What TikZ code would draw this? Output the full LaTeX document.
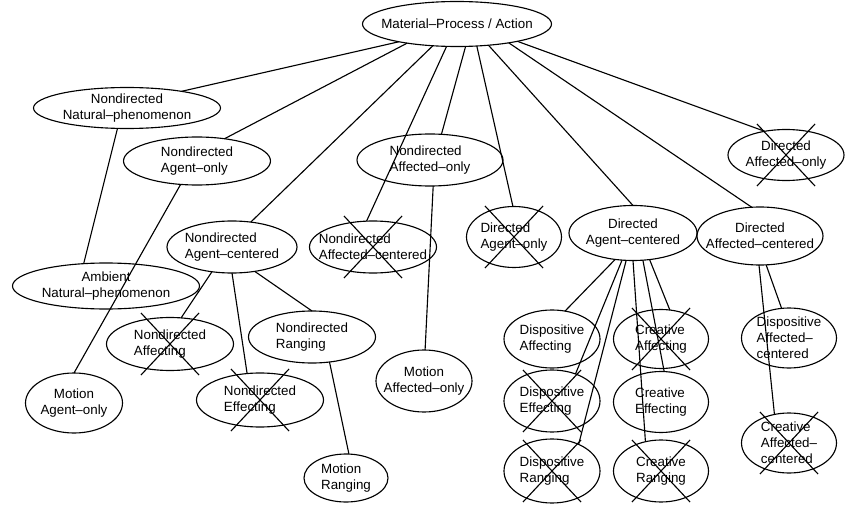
\documentclass[tikz,border=0pt]{standalone}
\usepackage{fontspec}
\setmainfont{Liberation Sans}
\usepackage{tikz}
\usetikzlibrary{shapes.geometric}

\begin{document}
\begin{tikzpicture}[
  oval/.style 2 args={ellipse,draw=black,line width=0.8pt,inner sep=-8pt,outer sep=0pt,
    minimum width=#1,minimum height=#2,align=left,font=\fontsize{9.5}{11.4}\selectfont},
  link/.style={line width=0.8pt}]
  \useasboundingbox (0,0) rectangle (21.15,-12.675);
  \node[oval={4.725cm}{1.125cm}] (top) at (11.425,-0.6) {Material--Process / Action};
  \node[oval={4.675cm}{1.025cm},align=center] (nnp) at (3.175,-2.7) {Nondirected\\Natural--phenomenon};
  \node[oval={3.675cm}{1.2cm}] (nao) at (4.925,-4.025) {Nondirected\\Agent--only};
  \node[oval={3.25cm}{1.3cm}] (nac) at (5.8,-6.175) {Nondirected\\Agent--centered};
  \node[oval={3.175cm}{1.3cm}] (nafc) at (9.325,-6.175) {Nondirected\\Affected--centered};
  \node[oval={3.65cm}{1.3cm}] (nafo) at (10.75,-4.0) {Nondirected\\Affected--only};
  \node[oval={2.9cm}{1.275cm},align=center] (dafo) at (19.65,-3.875) {Directed\\Affected--only};
  \node[oval={2.375cm}{1.525cm}] (dao) at (12.85,-5.925) {Directed\\Agent--only};
  \node[oval={3.2cm}{1.375cm},align=center] (dac) at (15.825,-5.825) {Directed\\Agent--centered};
  \node[oval={3.15cm}{1.45cm},align=center] (dafc) at (19.0,-5.9) {Directed\\Affected--centered};
  \node[oval={4.675cm}{1.15cm},align=center] (anp) at (2.65,-7.15) {Ambient\\Natural--phenomenon};
  \node[oval={3.175cm}{1.325cm}] (naff) at (4.25,-8.6) {Nondirected\\Affecting};
  \node[oval={3.175cm}{1.3cm}] (nrng) at (7.8,-8.425) {Nondirected\\Ranging};
  \node[oval={3.175cm}{1.35cm}] (neff) at (6.5,-10.0) {Nondirected\\Effecting};
  \node[oval={2.425cm}{1.5cm},align=center] (mao) at (1.85,-10.075) {Motion\\Agent--only};
  \node[oval={2.1cm}{1.2cm}] (mrng) at (8.65,-11.95) {Motion\\Ranging};
  \node[oval={2.4cm}{1.55cm},align=center] (mafo) at (10.6,-9.525) {Motion\\Affected--only};
  \node[oval={2.4cm}{1.45cm}] (daff) at (13.8,-8.475) {Dispositive\\Affecting};
  \node[oval={2.4cm}{1.55cm}] (deff) at (13.8,-10.025) {Dispositive\\Effecting};
  \node[oval={2.4cm}{1.6cm}] (drng) at (13.8,-11.775) {Dispositive\\Ranging};
  \node[oval={2.375cm}{1.475cm}] (caff) at (16.525,-8.475) {Creative\\Affecting};
  \node[oval={2.375cm}{1.525cm}] (ceff) at (16.525,-10.05) {Creative\\Effecting};
  \node[oval={2.375cm}{1.55cm}] (crng) at (16.525,-11.775) {Creative\\Ranging};
  \node[oval={2.375cm}{1.5cm}] (dpac) at (19.725,-8.45) {Dispositive\\Affected--\\centered};
  \node[oval={2.375cm}{1.5cm}] (crac) at (19.725,-11.075) {Creative\\Affected--\\centered};

  \draw[link] (top.197) -- (nnp.17);
  \draw[link] (top.-159) -- (nao.39);
  \draw[link] (top.-138) -- (nac.53);
  \draw[link] (top.-115) -- (nafc.104);
  \draw[link] (top.-69) -- (nafo.66);
  \draw[link] (top.-48) -- (dao.92);
  \draw[link] (top.-34) -- (dac.90);
  \draw[link] (top.-20) -- (dafc.106);
  \draw[link] (top.-16) -- (dafo.132);
  \draw[link] (nnp.-115) -- (anp.135);
  \draw[link] (nao.-125) -- (mao.90);
  \draw[link] (nac.-129) -- (naff.67);
  \draw[link] (nac.-90) -- (neff.116);
  \draw[link] (nac.-47) -- (nrng.90);
  \draw[link] (nrng.-55) -- (mrng.83);
  \draw[link] (nafo.-83) -- (mafo.88);
  \draw[link] (dac.-124) -- (daff.65);
  \draw[link] (dac.-112) -- (deff.49);
  \draw[link] (dac.-104) -- (drng.45);
  \draw[link] (dac.-90) -- (crng.118);
  \draw[link] (dac.-70) -- (ceff.84);
  \draw[link] (dac.-58) -- (caff.73);
  \draw[link] (dafc.-92) -- (crac.117);
  \draw[link] (dafc.-78) -- (dpac.104);

  \foreach \n in {nafc,dao,dafo,naff,neff,deff,drng,caff,crng,crac}
    \draw[link] ([shift={(-0.725,0.775)}]\n.center) -- ([shift={(0.725,-0.775)}]\n.center)
      ([shift={(0.725,0.775)}]\n.center) -- ([shift={(-0.725,-0.775)}]\n.center);
\end{tikzpicture}
\end{document}
